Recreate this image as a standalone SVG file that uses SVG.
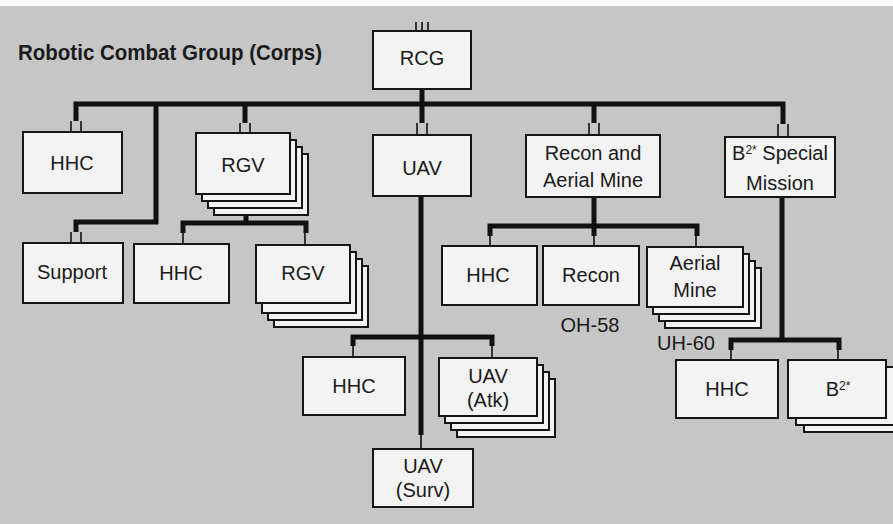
<svg xmlns="http://www.w3.org/2000/svg" width="893" height="524" viewBox="0 0 893 524">
<style>
.bg{fill:#c6c6c6}
.box{fill:#f3f3f3;stroke:#151515;stroke-width:2}
.bus{fill:none;stroke:#111;stroke-width:5;stroke-linejoin:miter}
.tick{fill:none;stroke:#111;stroke-width:1.6}
.t{font-family:"Liberation Sans",Arial,Helvetica,sans-serif;font-size:20px;fill:#1a1a1a;text-anchor:middle}
.title{font-family:"Liberation Sans",Arial,Helvetica,sans-serif;font-size:22px;font-weight:bold;fill:#1a1a1a}
.sup{font-size:12px}
</style>
<defs>
<rect id="stkRGV" width="94" height="61" class="box"/>
<rect id="stkUAV" width="98" height="58" class="box"/>
<rect id="stkAM" width="96" height="60" class="box"/>
<rect id="stkB2" width="98" height="58" class="box"/>
</defs>
<rect x="0" y="0" width="893" height="524" fill="#fafafa"/>
<rect class="bg" x="0" y="6" width="893" height="518"/>

<text class="title" x="18" y="60" textLength="304" lengthAdjust="spacingAndGlyphs">Robotic Combat Group (Corps)</text>

<g id="connectors">
  <path class="tick" d="M416,22V31M422,22V31M428,22V31"/>
  <path class="bus" d="M76,121V104H783V124"/>
  <path class="bus" d="M422,89V123"/>
  <path class="bus" d="M245,104V123"/>
  <path class="bus" d="M594,104V123"/>
  <path class="bus" d="M156,104V222H76V232"/>
  <path class="tick" d="M71,121V132M81,121V132"/>
  <path class="tick" d="M240,123V133M250,123V133"/>
  <path class="tick" d="M417,123V135M427,123V135"/>
  <path class="tick" d="M589,123V135M599,123V135"/>
  <path class="tick" d="M778,124V137M788,124V137"/>
  <path class="tick" d="M71,232V243M81,232V243"/>
  <!-- RGV sub -->
  <path class="bus" d="M246,214V223"/>
  <path class="bus" d="M183,233V223H306V233"/>
  <path class="tick" d="M183,233V244M305,233V245"/>
  <!-- UAV -->
  <path class="bus" d="M421,196V435"/>
  <path class="bus" d="M353,346V337H492V346"/>
  <path class="tick" d="M353,346V357M492,346V358M421,435V449"/>
  <!-- Recon -->
  <path class="bus" d="M594,197V236"/>
  <path class="bus" d="M490,236V226H697V236"/>
  <path class="tick" d="M490,236V246M594,236V246M696,236V247"/>
  <!-- B2 -->
  <path class="bus" d="M782,197V340"/>
  <path class="bus" d="M731,350V340H839V350"/>
  <path class="tick" d="M731,350V360M838,350V360"/>
</g>

<g id="node-rcg">
  <rect class="box" x="373" y="31" width="98" height="58"/>
  <text class="t" x="422" y="65">RCG</text>
</g>
<g id="node-hhc1">
  <rect class="box" x="23" y="132" width="99" height="61"/>
  <text class="t" x="72" y="170">HHC</text>
</g>
<g id="node-rgv1">
  <use href="#stkRGV" x="214" y="154"/>
  <use href="#stkRGV" x="208" y="147"/>
  <use href="#stkRGV" x="202" y="140"/>
  <rect class="box" x="196" y="133" width="94" height="61"/>
  <text class="t" x="243" y="172">RGV</text>
</g>
<g id="node-uav">
  <rect class="box" x="373" y="135" width="98" height="61"/>
  <text class="t" x="422" y="175">UAV</text>
</g>
<g id="node-recon-aerial">
  <rect class="box" x="526" y="135" width="134" height="62"/>
  <text class="t" x="593" y="160">Recon and</text>
  <text class="t" x="593" y="187">Aerial Mine</text>
</g>
<g id="node-b2-special">
  <rect class="box" x="725" y="137" width="110" height="60"/>
  <text class="t" x="780" y="160">B<tspan class="sup" dy="-6">2</tspan><tspan class="sup">*</tspan><tspan dy="6"> Special</tspan></text>
  <text class="t" x="780" y="190">Mission</text>
</g>
<g id="node-support">
  <rect class="box" x="23" y="243" width="100" height="60"/>
  <text class="t" x="72" y="279">Support</text>
</g>
<g id="node-hhc2">
  <rect class="box" x="134" y="244" width="95" height="59"/>
  <text class="t" x="181" y="280">HHC</text>
</g>
<g id="node-rgv2">
  <use href="#stkRGV" x="274" y="266"/>
  <use href="#stkRGV" x="268" y="259"/>
  <use href="#stkRGV" x="262" y="252"/>
  <rect class="box" x="256" y="245" width="94" height="58"/>
  <text class="t" x="303" y="280">RGV</text>
</g>
<g id="node-hhc4">
  <rect class="box" x="442" y="246" width="95" height="59"/>
  <text class="t" x="488" y="282">HHC</text>
</g>
<g id="node-recon">
  <rect class="box" x="543" y="246" width="96" height="59"/>
  <text class="t" x="591" y="282">Recon</text>
  <text class="t" x="590" y="332">OH-58</text>
</g>
<g id="node-aerial-mine">
  <use href="#stkAM" x="665" y="268"/>
  <use href="#stkAM" x="659" y="261"/>
  <use href="#stkAM" x="653" y="254"/>
  <rect class="box" x="647" y="247" width="96" height="60"/>
  <text class="t" x="695" y="270">Aerial</text>
  <text class="t" x="695" y="297">Mine</text>
  <text class="t" x="686" y="350">UH-60</text>
</g>
<g id="node-hhc3">
  <rect class="box" x="303" y="357" width="102" height="58"/>
  <text class="t" x="354" y="393">HHC</text>
</g>
<g id="node-uav-atk">
  <use href="#stkUAV" x="457" y="379"/>
  <use href="#stkUAV" x="451" y="372"/>
  <use href="#stkUAV" x="445" y="365"/>
  <rect class="box" x="439" y="358" width="98" height="58"/>
  <text class="t" x="488" y="383">UAV</text>
  <text class="t" x="488" y="407">(Atk)</text>
</g>
<g id="node-uav-surv">
  <rect class="box" x="373" y="449" width="100" height="58"/>
  <text class="t" x="423" y="473">UAV</text>
  <text class="t" x="423" y="497">(Surv)</text>
</g>
<g id="node-hhc5">
  <rect class="box" x="676" y="360" width="102" height="58"/>
  <text class="t" x="727" y="396">HHC</text>
</g>
<g id="node-b2">
  <use href="#stkB2" x="804" y="374"/>
  <use href="#stkB2" x="796" y="367"/>
  <rect class="box" x="788" y="360" width="98" height="58"/>
  <text class="t" x="838" y="396">B<tspan class="sup" dy="-6">2</tspan><tspan class="sup">*</tspan></text>
</g>
</svg>
